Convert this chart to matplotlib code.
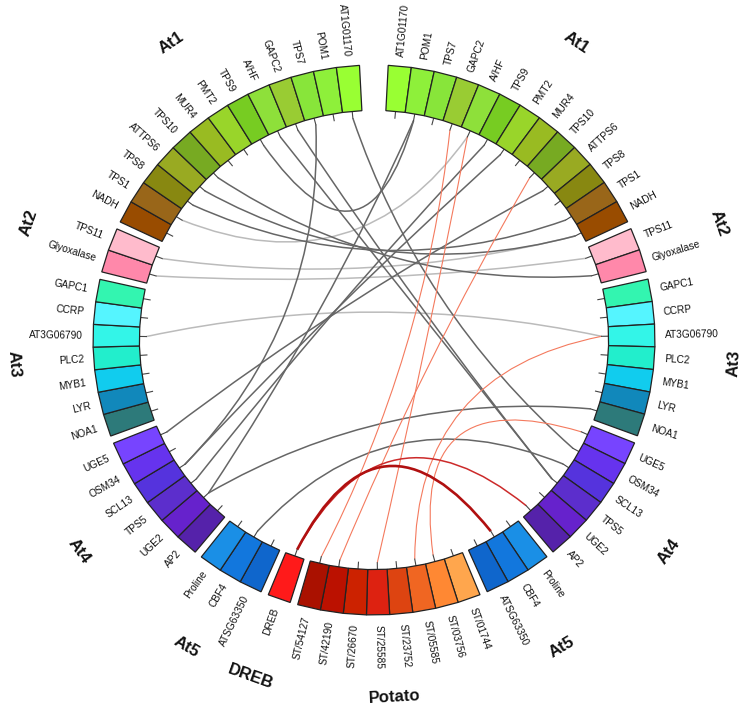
import numpy as np
import matplotlib
matplotlib.use("Agg")
import matplotlib.pyplot as plt
from matplotlib.path import Path
from matplotlib.patches import Polygon, PathPatch

plt.rcParams['font.family'] = ['Liberation Sans', 'DejaVu Sans']

# ---------------- data ----------------
at1_genes = ["AT1G01170", "POM1", "TPS7", "GAPC2", "A/HF", "TPS9", "PMT2",
             "MUR4", "TPS10", "ATTPS6", "TPS8", "TPS1", "NADH"]
at1_colors = ["#99ff33", "#8ef03a", "#88e53a", "#99cc33", "#8ee03a", "#77cc22",
              "#99d52a", "#99bb22", "#77aa22", "#99aa22", "#888811", "#996619", "#994c00"]
at2_genes = ["TPS11", "Glyoxalase"]
at2_colors = ["#ffbbcc", "#ff88aa"]
at3_genes = ["GAPC1", "CCRP", "AT3G06790", "PLC2", "MYB1", "LYR", "NOA1"]
at3_colors = ["#33f5b0", "#55f5ff", "#33f5e8", "#22eecc", "#11ccee", "#1188bb", "#2d7a7a"]
at4_genes = ["UGE5", "OSM34", "SCL13", "TPS5", "UGE2", "AP2"]
at4_colors = ["#7744ff", "#6633ee", "#5533dd", "#5c2ecc", "#6622cc", "#5522aa"]
at5_genes = ["Proline", "CBF4", "ATSG63350"]
at5_colors = ["#1a8fe6", "#1277dd", "#0f66cc"]
potato_genes = ["ST/01744", "ST/03756", "ST/05585", "ST/23752",
                "ST/25585", "ST/26670", "ST/42190", "ST/54127"]
potato_colors = ["#ffa64d", "#ff8833", "#f06622", "#dd4411",
                 "#dd2211", "#cc2200", "#bb1100", "#aa1100"]
dreb_genes = ["DREB"]
dreb_colors = ["#ff1a1a"]

# links between genes: R/L = right/left Arabidopsis copy, P = potato, D = DREB
links_gray_dark = [
    (("L", "TPS9"), ("R", "POM1")),
    (("L", "A/HF"), ("R", "TPS5")),
    (("L", "GAPC2"), ("R", "TPS5")),
    (("L", "AT1G01170"), ("R", "OSM34")),
    (("L", "TPS7"), ("L", "SCL13")),
    (("R", "POM1"), ("L", "UGE2")),
    (("R", "TPS9"), ("L", "TPS5")),
    (("R", "ATTPS6"), ("L", "UGE5")),
    (("R", "PMT2"), ("L", "SCL13")),
    (("L", "TPS10"), ("R", "Glyoxalase")),
    (("L", "ATTPS6"), ("R", "NADH")),
    (("L", "TPS8"), ("R", "TPS1")),
    (("L", "CBF4"), ("R", "SCL13")),
    (("L", "UGE2"), ("R", "NOA1")),
]
links_gray_light = [
    (("L", "TPS11"), ("R", "NADH")),
    (("L", "Glyoxalase"), ("R", "TPS11")),
    (("L", "AT3G06790"), ("R", "AT3G06790")),
    (("R", "A/HF"), ("L", "TPS1")),
]
links_red = [
    (("R", "GAPC2"), ("P", "ST/54127")),
    (("R", "A/HF"), ("P", "ST/25585")),
    (("R", "TPS10"), ("P", "ST/42190")),
    (("R", "AT3G06790"), ("P", "ST/05585")),
    (("R", "UGE5"), ("P", "ST/03756")),
]
links_red_mid = [
    (("D", "DREB"), ("R", "AP2")),
]
links_red_thick = [
    (("D", "DREB"), ("R", "CBF4")),
]

# ---------------- layout ----------------
W = 4.74      # degrees per cell
G = 1.6       # gap between groups
TOP = 2.9     # half top gap
R_IN, R_OUT, R_TICK = 0.835, 1.0, 0.81
BEZ = 0.19    # control point radius of links

groups = [  # (side, name, genes, colors) clockwise from top
    ("R", "At1", at1_genes, at1_colors),
    ("R", "At2", at2_genes, at2_colors),
    ("R", "At3", at3_genes, at3_colors),
    ("R", "At4", at4_genes, at4_colors),
    ("R", "At5", at5_genes, at5_colors),
    ("P", "Potato", potato_genes, potato_colors),
    ("D", "DREB", dreb_genes, dreb_colors),
    ("L", "At5", at5_genes[::-1], at5_colors[::-1]),
    ("L", "At4", at4_genes[::-1], at4_colors[::-1]),
    ("L", "At3", at3_genes[::-1], at3_colors[::-1]),
    ("L", "At2", at2_genes[::-1], at2_colors[::-1]),
    ("L", "At1", at1_genes[::-1], at1_colors[::-1]),
]


def xy(theta, r):
    t = np.deg2rad(theta)
    return r * np.sin(t), r * np.cos(t)


fig = plt.figure(figsize=(7.45, 7.08), dpi=100)
ax = fig.add_axes([0, 0, 1, 1])
ax.set_xlim(-374 / 281, (745 - 374) / 281)
ax.set_ylim(-(708 - 340) / 275, 340 / 275)
ax.axis("off")

centers = {}
theta = TOP
for side, gname, genes, cols in groups:
    start = theta
    for g, c in zip(genes, cols):
        a0, a1 = theta, theta + W
        pts = [xy(a0, R_IN), xy(a0, R_OUT), xy(a1, R_OUT), xy(a1, R_IN)]
        ax.add_patch(Polygon(pts, closed=True, facecolor=c, edgecolor="#222222",
                             lw=0.9, zorder=3))
        am = (a0 + a1) / 2
        centers[(side, g)] = am
        (x0, y0), (x1, y1) = xy(am, R_IN), xy(am, R_TICK)
        ax.plot([x0, x1], [y0, y1], color="#444444", lw=0.8, zorder=2)
        lx, ly = xy(am, 1.035)
        if am < 180:
            rot, ha = 90 - am, "left"
        else:
            rot, ha = 270 - am, "right"
        ax.text(lx, ly, g, rotation=rot, rotation_mode="anchor", ha=ha,
                va="center", fontsize=7.3, color="#111111", zorder=4)
        theta = a1
    gm = (start + theta) / 2
    rr = 1.30 if gname != "At3" else 1.285
    gx, gy = xy(gm, rr)
    rot = -gm
    if 90 < gm < 270:
        rot = 180 - gm
    ax.text(gx, gy, gname, rotation=rot, rotation_mode="anchor", ha="center",
            va="center", fontsize=12, fontweight="bold", color="#111111")
    theta += G


def draw_link(a, b, color, lw, z):
    ta, tb = centers[a], centers[b]
    p0 = xy(ta, R_TICK)
    p2 = xy(tb, R_TICK)
    d = (tb - ta) % 360
    mid = ta + d / 2 if d <= 180 else tb + (360 - d) / 2
    c = xy(mid, BEZ)
    path = Path([p0, c, p2], [Path.MOVETO, Path.CURVE3, Path.CURVE3])
    ax.add_patch(PathPatch(path, facecolor="none", edgecolor=color, lw=lw,
                           zorder=z))


for a, b in links_gray_light:
    draw_link(a, b, "#bbbbbb", 1.1, 1)
for a, b in links_gray_dark:
    draw_link(a, b, "#666666", 1.1, 1.2)
for a, b in links_red:
    draw_link(a, b, "#f47a5e", 0.8, 1.5)
for a, b in links_red_mid:
    draw_link(a, b, "#cc2a2a", 1.1, 1.6)
for a, b in links_red_thick:
    draw_link(a, b, "#b01010", 1.9, 1.7)

fig.savefig("out.png", dpi=100)
